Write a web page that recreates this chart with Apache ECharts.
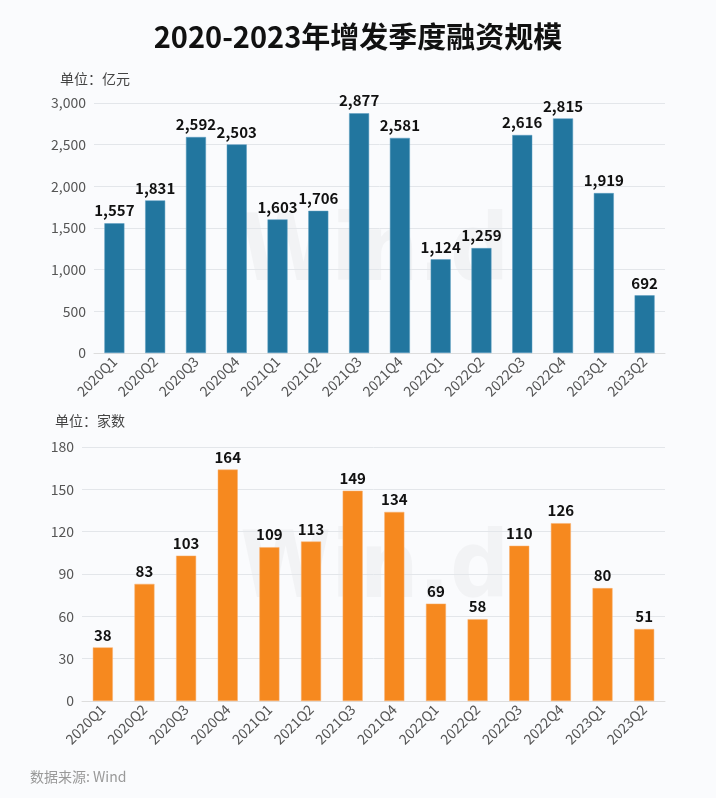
<!DOCTYPE html>
<html><head><meta charset="utf-8">
<script src="https://cdn.jsdelivr.net/npm/echarts@6/dist/echarts.min.js"></script>
<style>html,body{margin:0;padding:0;background:#fafbfd;}#c{width:716px;height:798px;}</style>
</head><body><div id="c"></div>
<script>
const categories = ['2020Q1','2020Q2','2020Q3','2020Q4','2021Q1','2021Q2','2021Q3','2021Q4','2022Q1','2022Q2','2022Q3','2022Q4','2023Q1','2023Q2'];
const amountValues = [1557,1831,2592,2503,1603,1706,2877,2581,1124,1259,2616,2815,1919,692];
const countValues = [38,83,103,164,109,113,149,134,69,58,110,126,80,51];
const titleText = '2020-2023年增发季度融资规模';
const unitTop = '单位：亿元';
const unitBottom = '单位：家数';
const sourceText = '数据来源: Wind';

const font = '"Noto Sans CJK SC","Noto Sans",sans-serif';
const chart = echarts.init(document.getElementById('c'), null, {renderer:'canvas'});
const axisLabel = {color:'#555', fontSize:14, fontFamily:font};
const xLabel = {color:'#555', fontSize:14, fontFamily:font, rotate:45, interval:0, margin:6};
chart.setOption({
  backgroundColor:'#fafbfd',
  animation:false,
  title:{text:titleText, left:'center', top:17, textStyle:{fontSize:29, fontWeight:'bold', color:'#111', fontFamily:font}},
  graphic:[
    {type:'text', left:240, top:210, z:0, style:{text:'Win.d', fontSize:92, fontWeight:'bold', fill:'rgba(0,0,0,0.03)', fontFamily:'"DejaVu Sans Condensed","DejaVu Sans",sans-serif'}},
    {type:'text', left:240, top:527, z:0, style:{text:'Win.d', fontSize:92, fontWeight:'bold', fill:'rgba(0,0,0,0.03)', fontFamily:'"DejaVu Sans Condensed","DejaVu Sans",sans-serif'}},
    {type:'text', left:60, top:72, style:{text:unitTop, fontSize:14, fill:'#444', fontFamily:font}},
    {type:'text', left:55, top:414, style:{text:unitBottom, fontSize:14, fill:'#444', fontFamily:font}},
    {type:'text', left:30, top:770, style:{text:sourceText, fontSize:14, fill:'#999', fontFamily:font}}
  ],
  grid:[
    {left:94, right:51, top:103, height:250},
    {left:82, right:51, top:447, height:254}
  ],
  xAxis:[
    {type:'category', gridIndex:0, data:categories, axisTick:{show:false}, axisLine:{lineStyle:{color:'#ddd'}}, axisLabel:xLabel},
    {type:'category', gridIndex:1, data:categories, axisTick:{show:false}, axisLine:{lineStyle:{color:'#ddd'}}, axisLabel:xLabel}
  ],
  yAxis:[
    {type:'value', gridIndex:0, min:0, max:3000, interval:500, axisLabel:Object.assign({}, axisLabel, {formatter:v=>v.toLocaleString('en-US')}), splitLine:{lineStyle:{color:'#e3e6ea'}}, axisLine:{show:false}, axisTick:{show:false}},
    {type:'value', gridIndex:1, min:0, max:180, interval:30, axisLabel:axisLabel, splitLine:{lineStyle:{color:'#e3e6ea'}}, axisLine:{show:false}, axisTick:{show:false}}
  ],
  series:[
    {type:'bar', xAxisIndex:0, yAxisIndex:0, data:amountValues, barWidth:20, itemStyle:{color:'#22769f', borderColor:'#5a9cc0', borderWidth:0.5},
     label:{show:true, position:'top', distance:5, fontSize:15, fontWeight:'bold', color:'#111', fontFamily:font, formatter:p=>p.value.toLocaleString('en-US')}},
    {type:'bar', xAxisIndex:1, yAxisIndex:1, data:countValues, barWidth:20, itemStyle:{color:'#f6891f', borderColor:'#f9b070', borderWidth:0.5},
     label:{show:true, position:'top', distance:5, fontSize:15, fontWeight:'bold', color:'#111', fontFamily:font}}
  ]
});
</script></body></html>
